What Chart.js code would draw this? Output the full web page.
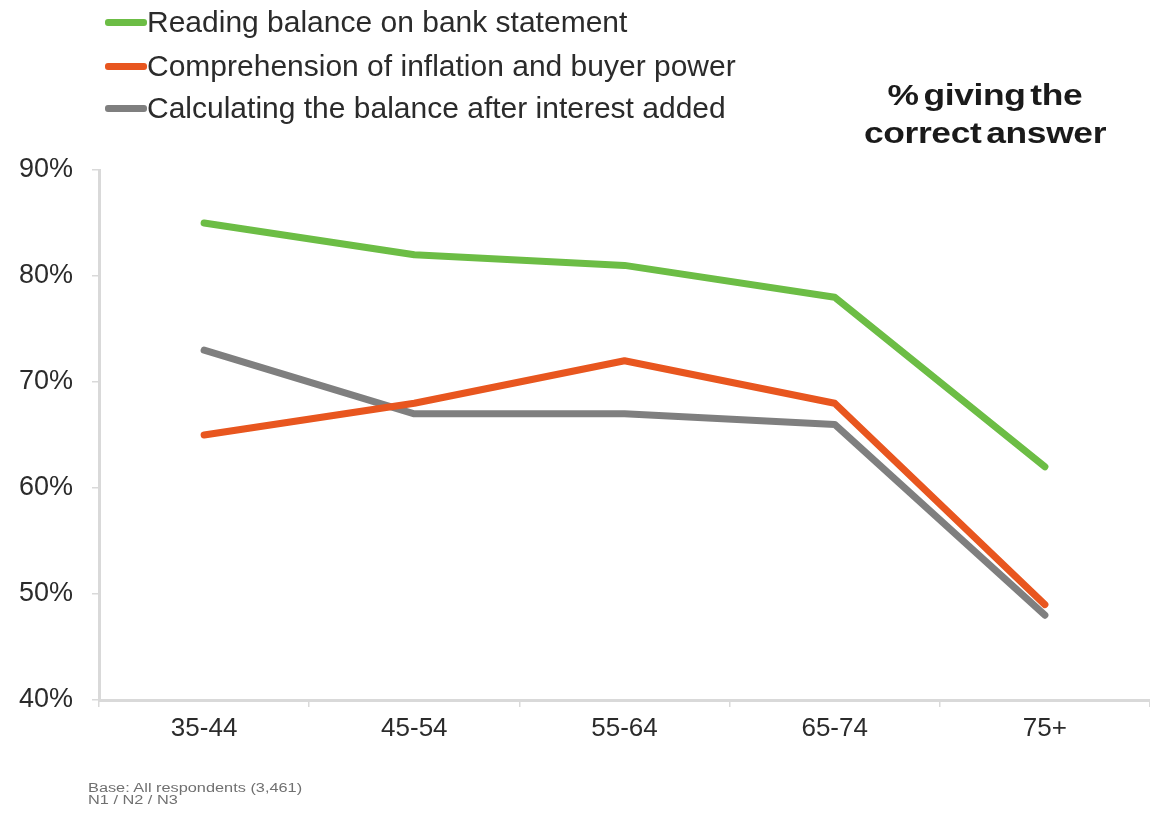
<!DOCTYPE html>
<html>
<head>
<meta charset="utf-8">
<script src="https://cdn.jsdelivr.net/npm/chart.js@4/dist/chart.umd.min.js"></script>
<style>
  html, body { margin: 0; padding: 0; background: #ffffff; }
  #wrap { position: relative; width: 1150px; height: 815px; overflow: hidden; font-family: "Liberation Sans", Arial, sans-serif; }
  #chart { position: absolute; left: 0; top: 0; }
  .legend { position: absolute; left: 105px; top: 0; }
  .legend .row { position: absolute; left: 0; height: 36px; display: flex; align-items: center; white-space: nowrap; }
  .legend .sw { width: 42px; height: 7px; border-radius: 3px; }
  .legend .tx { font-size: 30px; color: #2b2b2b; }
  .title { position: absolute; left: 830px; width: 310px; top: 76px; text-align: center; font-weight: bold; font-size: 30px; line-height: 38px; color: #1a1a1a; letter-spacing: -0.3px; word-spacing: -4px; transform: scaleX(1.18); transform-origin: 155px 0; }
  .note { position: absolute; left: 88px; top: 782px; font-size: 12px; line-height: 12px; color: #707070; transform: scaleX(1.36); transform-origin: 0 0; white-space: nowrap; }
</style>
</head>
<body>
<div id="wrap">
  <canvas id="chart" width="1150" height="815"></canvas>
  <div class="legend" id="legend"></div>
  <div class="title">% giving the<br>correct answer</div>
  <div class="note">Base: All respondents (3,461)<br>N1 / N2 / N3</div>
</div>
<script>
// Age groups along the horizontal axis
const ageGroups = ['35-44', '45-54', '55-64', '65-74', '75+'];

// Share of respondents answering each question correctly (%)
const readingBalance = [85, 82, 81, 78, 62];
const inflationComprehension = [65, 68, 72, 68, 49];
const interestCalculation = [73, 67, 67, 66, 48];

// Series names and line colours
const seriesNames = [
  'Reading balance on bank statement',
  'Comprehension of inflation and buyer power',
  'Calculating the balance after interest added'
];
const seriesColors = ['#6cbd45', '#e8561f', '#7f7f7f'];

// Vertical axis range and step
const yMin = 40, yMax = 90, yStep = 10;

const seriesValues = [readingBalance, inflationComprehension, interestCalculation];

// Legend rows above the plot
const legendEl = document.getElementById('legend');
const legendRowCenters = [22, 66, 108];
seriesNames.forEach((name, i) => {
  const row = document.createElement('div');
  row.className = 'row';
  row.style.top = (legendRowCenters[i] - 18) + 'px';
  const sw = document.createElement('span');
  sw.className = 'sw';
  sw.style.background = seriesColors[i];
  const tx = document.createElement('span');
  tx.className = 'tx';
  tx.textContent = name;
  row.appendChild(sw);
  row.appendChild(tx);
  legendEl.appendChild(row);
});

const axisColor = '#d9d9d9';
const labelFont = { family: '"Liberation Sans", Arial, sans-serif', size: 26 };

new Chart(document.getElementById('chart'), {
  type: 'line',
  data: {
    labels: ageGroups,
    datasets: seriesValues.map((vals, i) => ({
      label: seriesNames[i],
      data: vals,
      borderColor: seriesColors[i],
      backgroundColor: seriesColors[i],
      borderWidth: 7,
      borderCapStyle: 'round',
      borderJoinStyle: 'round',
      pointRadius: 0,
      tension: 0,
      fill: false
    }))
  },
  options: {
    responsive: false,
    animation: false,
    layout: { padding: { top: 170, left: 0, right: 0, bottom: 0 } },
    plugins: {
      legend: { display: false },
      title: { display: false },
      tooltip: { enabled: false }
    },
    scales: {
      x: {
        offset: true,
        grid: { offset: true, drawOnChartArea: false, drawTicks: true, tickLength: 7, color: axisColor, lineWidth: 1.5 },
        border: { display: true, color: axisColor, width: 3 },
        ticks: { color: '#2b2b2b', font: labelFont, padding: 6, maxRotation: 0 },
        afterFit: s => { s.height = 115; }
      },
      y: {
        min: yMin,
        max: yMax,
        grid: { drawOnChartArea: false, drawTicks: true, tickLength: 7, color: axisColor, lineWidth: 1.5 },
        border: { display: true, color: axisColor, width: 3 },
        ticks: {
          stepSize: yStep,
          color: '#2b2b2b',
          font: { family: labelFont.family, size: 27 },
          padding: 19,
          callback: v => v + '%'
        },
        afterFit: s => { s.width = 99; }
      }
    }
  }
});
</script>
</body>
</html>
